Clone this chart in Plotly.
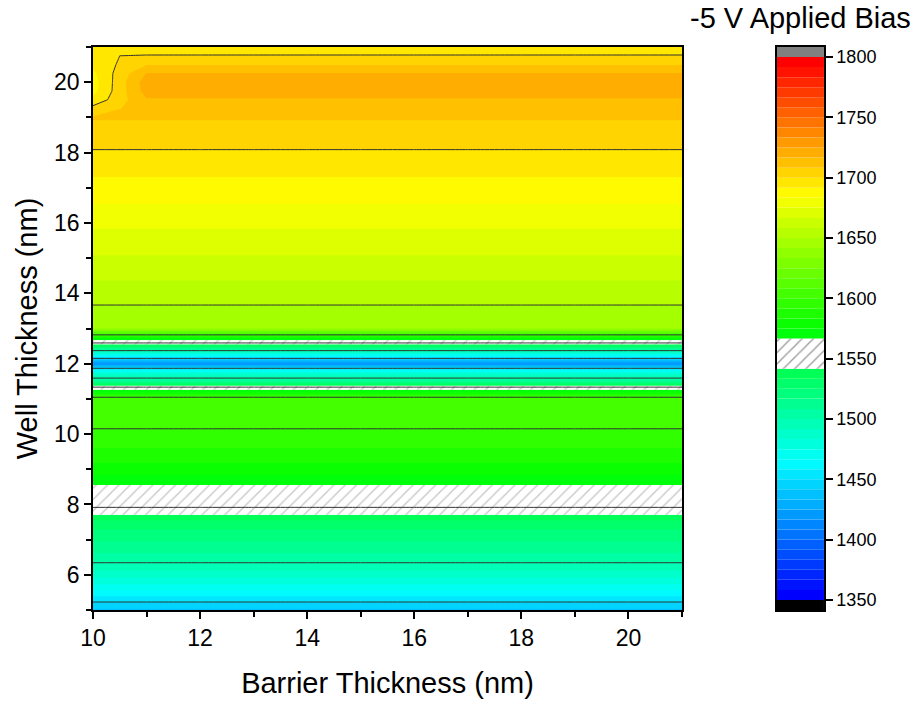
import numpy as np
import plotly.graph_objects as go

# ---------------- data ----------------
barrier_nm = [10, 11, 12, 13, 14, 15, 16, 17, 18, 19, 20, 21]
well_nm = [5.0 + 0.25 * k for k in range(65)]
# applied-bias wavelength profile vs well thickness (bottom -> top)
well_profile = [
    1440, 1451, 1464, 1476,
    1487, 1497, 1505, 1512,
    1518, 1524, 1531, 1544,
    1553, 1560, 1565, 1573,
    1579, 1585, 1590, 1594,
    1597, 1602, 1605, 1606,
    1607, 1569, 1512, 1479,
    1418, 1471, 1531, 1584,
    1642, 1645, 1648, 1651,
    1654, 1657, 1660, 1663,
    1666, 1668, 1671, 1674,
    1677, 1680, 1683, 1686,
    1689, 1691, 1694, 1697,
    1699, 1702, 1705, 1707,
    1709, 1713, 1716, 1720,
    1721, 1717, 1708, 1700.5,
    1695,
]
# values of the 10 nm barrier column that differ near the top
edge_well = [19.25, 19.5, 19.75, 20.0, 20.25, 20.5, 20.75, 21.0]
edge_vals = [1703, 1694, 1689, 1688, 1690, 1694, 1699.5, 1695]

cbar_ticks = [1350, 1400, 1450, 1500, 1550, 1600, 1650, 1700, 1750, 1800]

# ---------------- grid ----------------
z = np.array([[v] * len(barrier_nm) for v in well_profile], dtype=float)
for w, v in zip(edge_well, edge_vals):
    z[well_nm.index(w), 0] = v

zstart, zend, csize = 1350.0, 1800.0, 25.0 / 3.0
nlev = int(round((zend - zstart) / csize))  # 54 bands
hatch_bands = [23, 24, 25]
hatch_lo = zstart + hatch_bands[0] * csize
hatch_hi = zstart + (hatch_bands[-1] + 1) * csize

anchors = [(0.0, (0, 0, 255)), (0.25, (0, 255, 255)), (0.5, (0, 255, 0)),
           (0.75, (255, 255, 0)), (1.0, (255, 0, 0))]


def rainbow(f):
    for (f0, c0), (f1, c1) in zip(anchors[:-1], anchors[1:]):
        if f <= f1:
            t = (f - f0) / (f1 - f0)
            return "rgb(%d,%d,%d)" % tuple(round(a + (b - a) * t) for a, b in zip(c0, c1))
    return "rgb(255,0,0)"


band_colors = []
for i in range(nlev):
    band_colors.append("white" if i in hatch_bands else rainbow(i / (nlev - 1)))
all_colors = ["black"] + band_colors + ["rgb(128,128,128)"]
nc = len(all_colors) - 1
cscale = []
for j, c in enumerate(all_colors):
    cscale.append([max(0.0, (j - 0.5) / nc), c])
    cscale.append([min(1.0, (j + 0.5) / nc), c])

FONT = "Liberation Sans, Arial, sans-serif"
HATCH = dict(shape="/", fgcolor="rgb(150,150,150)", bgcolor="white", size=8, solidity=0.18)
fig = go.Figure()

fig.add_trace(go.Contour(
    x=barrier_nm, y=well_nm, z=z, autocontour=False,
    contours=dict(start=zstart, end=zend, size=csize, coloring="fill", showlines=False),
    colorscale=cscale, showscale=False, line=dict(smoothing=0, width=0),
    hoverinfo="skip", showlegend=False))

# hatched band polygons (values inside the hatch range), from the data
yf = np.linspace(well_nm[0], well_nm[-1], 6401)
cols = []
for ci in range(len(barrier_nm)):
    zz = np.interp(yf, well_nm, z[:, ci])
    m = (zz >= hatch_lo) & (zz <= hatch_hi)
    d = np.diff(m.astype(int))
    starts = list(np.where(d == 1)[0] + 1)
    ends = list(np.where(d == -1)[0])
    if m[0]:
        starts = [0] + starts
    if m[-1]:
        ends = ends + [len(m) - 1]
    cols.append([(yf[s], yf[e]) for s, e in zip(starts, ends)])
nint = min(len(c) for c in cols)
px, py = [], []
for k in range(nint):
    bots = [c[k][0] for c in cols]
    tops = [c[k][1] for c in cols]
    px += list(barrier_nm) + list(barrier_nm[::-1]) + [barrier_nm[0], None]
    py += bots + tops[::-1] + [bots[0], None]
fig.add_trace(go.Scatter(
    x=px, y=py, mode="lines", fill="toself", line=dict(width=0),
    fillcolor="white", fillpattern=HATCH,
    hoverinfo="skip", showlegend=False))

# contour lines on an overlaying axis pair so they sit above the hatching
fig.add_trace(go.Contour(
    x=barrier_nm, y=well_nm, z=z, autocontour=False, xaxis="x3", yaxis="y3",
    contours=dict(start=zstart, end=zend, size=50, coloring="none"),
    line=dict(color="rgb(50,50,50)", width=1, smoothing=0),
    showscale=False, hoverinfo="skip", showlegend=False))

# custom colour bar
bases, heights, colors, shapes = [zstart - csize], [csize], ["black"], [""]
i = 0
while i < nlev:
    if i in hatch_bands:
        bases.append(hatch_lo); heights.append(hatch_hi - hatch_lo)
        colors.append("white"); shapes.append("/")
        i = hatch_bands[-1] + 1
        continue
    bases.append(zstart + i * csize); heights.append(csize)
    colors.append(band_colors[i]); shapes.append("")
    i += 1
bases.append(zend); heights.append(csize); colors.append("rgb(128,128,128)"); shapes.append("")

fig.add_trace(go.Bar(
    x=[0] * len(bases), y=heights, base=bases, width=1, xaxis="x2", yaxis="y2",
    marker=dict(color=colors, line=dict(width=0),
                pattern=dict(shape=shapes, fgcolor=HATCH["fgcolor"], bgcolor="white",
                             size=HATCH["size"], solidity=HATCH["solidity"])),
    hoverinfo="skip", showlegend=False))

axis_common = dict(showline=True, linecolor="black", linewidth=1.6, mirror=True,
                   showgrid=False, zeroline=False, ticks="outside", ticklen=7,
                   tickwidth=1.5, tickcolor="black",
                   tickfont=dict(family=FONT, size=23, color="black"))

fig.update_layout(
    width=917, height=704, margin=dict(l=93, r=10, t=47, b=92),
    paper_bgcolor="white", plot_bgcolor="white", barmode="overlay", showlegend=False,
    font=dict(family=FONT, color="black"),
    xaxis=dict(domain=[0, 0.7236], range=[10, 21], tickvals=list(range(10, 21, 2)),
               minor=dict(dtick=1, ticks="outside", ticklen=5, tickwidth=1.5, tickcolor="black"),
               title=dict(text="Barrier Thickness (nm)", font=dict(family=FONT, size=29), standoff=22),
               **axis_common),
    yaxis=dict(domain=[0, 1], range=[5, 21], tickvals=list(range(6, 21, 2)),
               minor=dict(dtick=1, ticks="outside", ticklen=5, tickwidth=1.5, tickcolor="black"),
               title=dict(text="Well Thickness (nm)", font=dict(family=FONT, size=29), standoff=8),
               **axis_common),
    xaxis3=dict(overlaying="x", range=[10, 21], visible=False, anchor="y3"),
    yaxis3=dict(overlaying="y", range=[5, 21], visible=False, anchor="x3"),
    xaxis2=dict(domain=[0.8403, 0.898], range=[-0.5, 0.5], anchor="y2",
                showline=True, linecolor="black", linewidth=1.6, mirror=True,
                showticklabels=False, ticks="", showgrid=False, zeroline=False, fixedrange=True),
    yaxis2=dict(domain=[0, 1], anchor="x2", side="right",
                range=[zstart - csize, zend + csize], tickvals=cbar_ticks,
                showline=True, linecolor="black", linewidth=1.6, mirror=True,
                showgrid=False, zeroline=False, ticks="outside", ticklen=7,
                tickwidth=1.5, tickcolor="black",
                tickfont=dict(family=FONT, size=18, color="black")),
    annotations=[dict(text="-5 V Applied Bias", x=0.869, y=1.051, xref="paper", yref="paper",
                      xanchor="center", yanchor="middle", showarrow=False,
                      font=dict(family=FONT, size=29, color="black"))],
)

fig.write_html("out.html")
